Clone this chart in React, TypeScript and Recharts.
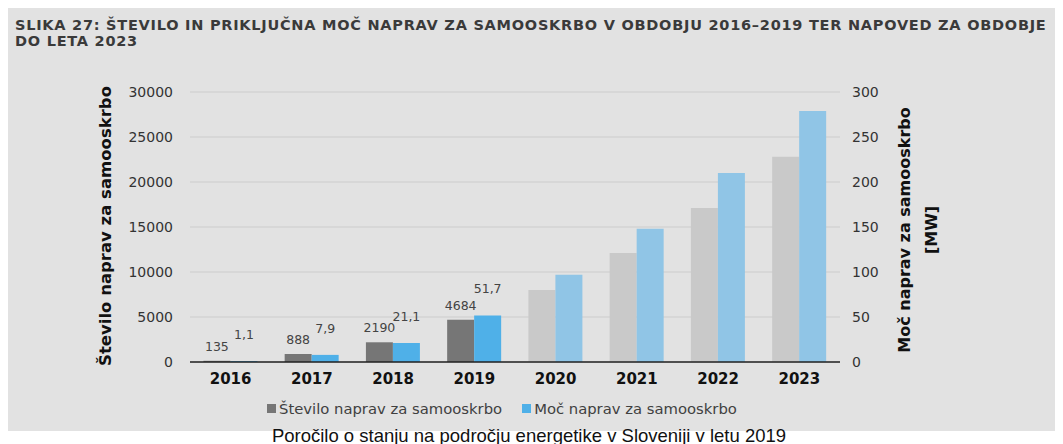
import React from "react";
import { BarChart, Bar, XAxis, YAxis, CartesianGrid, Cell, LabelList } from "recharts";

const years = ["2016", "2017", "2018", "2019", "2020", "2021", "2022", "2023"];
const deviceCounts = [135, 888, 2190, 4684, 8000, 12100, 17100, 22800];
const powerMW = [1.1, 7.9, 21.1, 51.7, 97, 148, 210, 279];
// prve štiri leta so dejanski podatki, ostalo je napoved
const isForecast = [false, false, false, false, true, true, true, true];
const countTicks = [0, 5000, 10000, 15000, 20000, 25000, 30000];
const powerTicks = [0, 50, 100, 150, 200, 250, 300];
const edgeTicks = [0, 1, 2, 3, 4, 5, 6, 7, 8];

const data = years.map((year, i) => ({
  year,
  count: deviceCounts[i],
  power: powerMW[i],
  forecast: isForecast[i],
}));

const FONT = "'DejaVu Sans', sans-serif";

const makeLabel = (offset: number, fmt: (v: number) => string) => (props: any) => {
  const { x, y, width, value, index } = props;
  if (isForecast[index]) return null;
  return (
    <text
      x={Number(x) + Number(width) / 2}
      y={Number(y) - offset}
      textAnchor="middle"
      fontSize={12.5}
      fontFamily={FONT}
      fill="#444"
    >
      {fmt(Number(value))}
    </text>
  );
};

export default function App() {
  return (
    <div>
      <div style={{ position: "relative", width: 1055, height: 423, background: "#e2e2e2", fontFamily: FONT }}>
        <div
          style={{
            position: "absolute",
            left: 7,
            top: 9,
            width: 1048,
            fontSize: 14.5,
            letterSpacing: 0.75,
            fontWeight: "bold",
            color: "#3a3a3a",
            lineHeight: "16px",
          }}
        >
          <div style={{ whiteSpace: "nowrap" }}>
            SLIKA 27: ŠTEVILO IN PRIKLJUČNA MOČ NAPRAV ZA SAMOOSKRBO V OBDOBJU 2016–2019 TER NAPOVED ZA OBDOBJE
          </div>
          <div>DO LETA 2023</div>
        </div>

        <BarChart
          width={1055}
          height={423}
          data={data}
          margin={{ top: 84, right: 143, bottom: 38, left: 102 }}
          barCategoryGap="16.5%"
          barGap={0}
          style={{ position: "absolute", left: 0, top: 0 }}
        >
          <CartesianGrid yAxisId="left" xAxisId="years" vertical={false} stroke="#d3d3d3" strokeWidth={1.5} />
          <XAxis
            xAxisId="edges"
            type="number"
            domain={[0, 8]}
            ticks={edgeTicks}
            height={1}
            tick={false}
            tickSize={5}
            axisLine={{ stroke: "#222", strokeWidth: 1.5 }}
            tickLine={{ stroke: "#222", strokeWidth: 1.5 }}
          />
          <XAxis
            xAxisId="years"
            dataKey="year"
            height={30}
            axisLine={false}
            tickLine={false}
            tickSize={6}
            tickMargin={4}
            tick={{ fontSize: 15, fontWeight: "bold", fill: "#111", fontFamily: FONT }}
          />
          <YAxis
            yAxisId="left"
            width={80}
            domain={[0, 30000]}
            ticks={countTicks}
            axisLine={false}
            tickLine={false}
            tickSize={6}
            tickMargin={11}
            tick={{ fontSize: 14, fill: "#333", fontFamily: FONT }}
          />
          <YAxis
            yAxisId="right"
            orientation="right"
            width={80}
            domain={[0, 300]}
            ticks={powerTicks}
            axisLine={false}
            tickLine={false}
            tickSize={6}
            tickMargin={6}
            tick={{ fontSize: 14, fill: "#333", fontFamily: FONT, textAnchor: "start" }}
          />
          <Bar xAxisId="years" yAxisId="left" dataKey="count" isAnimationActive={false}>
            {data.map((d, i) => (
              <Cell key={i} fill={d.forecast ? "#c9c9c9" : "#767676"} />
            ))}
            <LabelList dataKey="count" content={makeLabel(10, (v) => String(v))} />
          </Bar>
          <Bar xAxisId="years" yAxisId="right" dataKey="power" isAnimationActive={false}>
            {data.map((d, i) => (
              <Cell key={i} fill={d.forecast ? "#90c5e6" : "#4fb0e8"} />
            ))}
            <LabelList
              dataKey="power"
              content={makeLabel(22, (v) => v.toFixed(1).replace(".", ","))}
            />
          </Bar>
        </BarChart>

        <div
          style={{
            position: "absolute",
            left: 97,
            top: 218,
            transform: "translate(-50%, -50%) rotate(-90deg)",
            whiteSpace: "nowrap",
            fontSize: 16.5,
            fontWeight: "bold",
            color: "#111",
          }}
        >
          Število naprav za samooskrbo
        </div>
        <div
          style={{
            position: "absolute",
            left: 910,
            top: 222,
            transform: "translate(-50%, -50%) rotate(-90deg)",
            whiteSpace: "nowrap",
            textAlign: "center",
            fontSize: 16,
            fontWeight: "bold",
            color: "#111",
            lineHeight: "27px",
          }}
        >
          Moč naprav za samooskrbo
          <br />
          [MW]
        </div>

        <div
          style={{
            position: "absolute",
            left: 259,
            top: 392,
            display: "flex",
            alignItems: "center",
            fontSize: 14.8,
            color: "#404040",
            whiteSpace: "nowrap",
          }}
        >
          <span style={{ width: 9, height: 9, background: "#767676", marginRight: 3 }} />
          <span style={{ marginRight: 20 }}>Število naprav za samooskrbo</span>
          <span style={{ width: 9, height: 9, background: "#4fb0e8", marginRight: 3 }} />
          <span>Moč naprav za samooskrbo</span>
        </div>
      </div>
      <div
        style={{
          position: "relative",
          width: 1042,
          height: 13,
          textAlign: "center",
          fontFamily: "'Liberation Sans', Arial, sans-serif",
          fontSize: 18.5,
          lineHeight: "9px",
          color: "#111",
          whiteSpace: "nowrap",
        }}
      >
        Poročilo o stanju na področju energetike v Sloveniji v letu 2019
      </div>
    </div>
  );
}
